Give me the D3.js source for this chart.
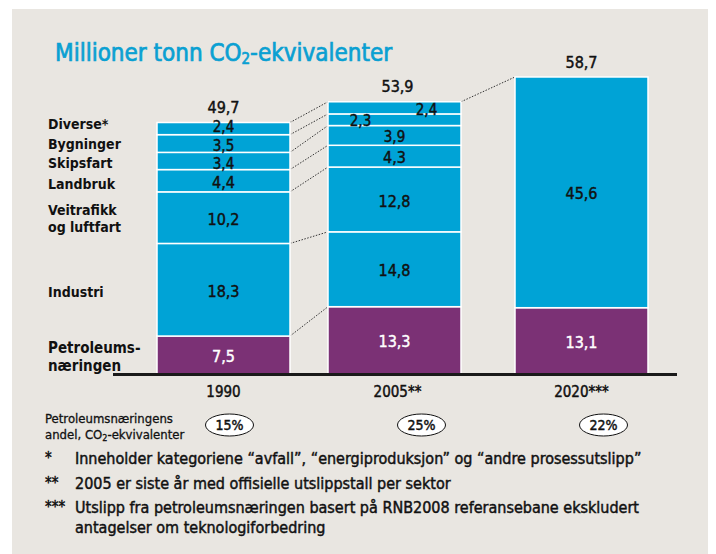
<!DOCTYPE html>
<html>
<head>
<meta charset="utf-8">
<script src="https://cdn.jsdelivr.net/npm/d3@7"></script>
<style>
  body { margin: 0; background: #fff; }
  svg text { font-family: 'Liberation Sans Narrow', 'DejaVu Sans Condensed', 'Open Sans', sans-serif; }
  /* the original face is a medium weight; thicken the regular one a little */
  svg text.med { stroke-width: 0.45px; }
</style>
</head>
<body>
<svg id="chart"></svg>
<script>
// data
const years = ["1990", "2005**", "2020***"];
const sectors = ["Petroleumsnæringen", "Industri", "Veitrafikk og luftfart", "Landbruk", "Skipsfart", "Bygninger", "Diverse*"];
const sectorLabels = [["Petroleums-", "næringen"], ["Industri"], ["Veitrafikk", "og luftfart"], ["Landbruk"], ["Skipsfart"], ["Bygninger"], ["Diverse*"]];
const values1990 = [7.5, 18.3, 10.2, 4.4, 3.4, 3.5, 2.4];
const values2005 = [13.3, 14.8, 12.8, 4.3, 3.9, 2.3, 2.4];
const values2020 = [13.1, 45.6];   // petroleum, all other sectors
const totals = [49.7, 53.9, 58.7];
const petroShare = ["15%", "25%", "22%"];
const footnotes = [
  ["*", "Inneholder kategoriene “avfall”, “energiproduksjon” og “andre prosessutslipp”"],
  ["**", "2005 er siste år med offisielle utslippstall per sektor"],
  ["***", "Utslipp fra petroleumsnæringen basert på RNB2008 referansebane ekskludert", "antagelser om teknologiforbedring"]
];

const W = 716, H = 554;
const blue = "#00a3d6", purple = "#7b3175", ink = "#111";

const svg = d3.select("#chart").attr("width", W).attr("height", H);

// background panel
svg.append("rect")
  .attr("x", 12).attr("y", 9)
  .attr("width", 696).attr("height", H - 9)
  .attr("fill", "#e9e6e1");

const y = d3.scaleLinear().domain([0, 60]).range([374, 70.4]);
const x = d3.scaleOrdinal().domain(years).range([157, 328, 515]);
const bw = 133;

// build stacked segments
function stackOf(vals, year, kinds) {
  const tops = d3.cumsum(vals);
  return vals.map((v, i) => ({ year, kind: kinds[i], value: v, y0: tops[i] - v, y1: tops[i], idx: i }));
}
const seg1990 = stackOf(values1990, years[0], sectors);
const seg2005 = stackOf(values2005, years[1], sectors);
const seg2020 = stackOf(values2020, years[2], ["Petroleumsnæringen", "Andre"]);
const allSegs = seg1990.concat(seg2005, seg2020);

const fmt = v => d3.format(".1f")(v).replace(".", ",");

// title
svg.append("text")
  .attr("class", "med")
  .attr("x", 55).attr("y", 61)
  .attr("fill", "#0aa0d2").attr("stroke", "#0aa0d2").style("stroke-width", "0.7px")
  .attr("font-size", 24)
  .html('Millioner tonn CO<tspan font-size="15" dy="3">2</tspan><tspan dy="-3">-ekvivalenter</tspan>');

// dotted connectors between bars
const conn = svg.append("g")
  .attr("stroke", "#333").attr("stroke-width", 1)
  .attr("stroke-dasharray", "1.5,1.5").attr("fill", "none");
seg1990.forEach((d, i) => {
  conn.append("line")
    .attr("x1", x(years[0]) + bw).attr("y1", y(d.y1))
    .attr("x2", x(years[1])).attr("y2", y(seg2005[i].y1));
});
conn.append("line")
  .attr("x1", x(years[1]) + bw).attr("y1", y(d3.sum(values2005)))
  .attr("x2", x(years[2])).attr("y2", y(d3.sum(values2020)));

// bars
svg.append("g").selectAll("rect")
  .data(allSegs)
  .join("rect")
  .attr("x", d => x(d.year))
  .attr("y", d => y(d.y1))
  .attr("width", bw)
  .attr("height", d => y(d.y0) - y(d.y1))
  .attr("fill", d => d.idx === 0 ? purple : blue)
  .attr("stroke", "#fff")
  .attr("stroke-width", 1.5);

// baseline
svg.append("line")
  .attr("x1", 113).attr("x2", 677)
  .attr("y1", y(0) + 0.5).attr("y2", y(0) + 0.5)
  .attr("stroke", "#1a1a1a").attr("stroke-width", 3);

// segment value labels (labels of the thin segments are pushed apart)
const nudge = {
  "2005**|Diverse*": [32, 1.5], "2005**|Bygninger": [-34, 1.5],
  "1990|Diverse*": [0, -2], "1990|Bygninger": [0, 2], "1990|Skipsfart": [0, 2.5]
};
const nd = d => nudge[d.year + "|" + d.kind] || [0, 1.5];
svg.append("g").selectAll("text")
  .data(allSegs)
  .join("text")
  .attr("class", "med")
  .attr("x", d => x(d.year) + bw / 2 + nd(d)[0])
  .attr("y", d => (y(d.y0) + y(d.y1)) / 2 + nd(d)[1])
  .attr("dy", "0.35em")
  .attr("text-anchor", "middle")
  .attr("font-size", d => d.value < 4 ? 15 : 16)
  .attr("fill", d => d.idx === 0 ? "#fff" : ink)
  .attr("stroke", d => d.idx === 0 ? "#fff" : ink)
  .text(d => fmt(d.value));

// totals above bars
svg.append("g").selectAll("text")
  .data(years)
  .join("text")
  .attr("class", "med")
  .attr("x", d => x(d) + bw / 2 + (d === years[1] ? 3 : 0))
  .attr("y", (d, i) => y(totals[i]) - 15)
  .attr("dy", "0.35em")
  .attr("text-anchor", "middle")
  .attr("font-size", 16)
  .attr("fill", ink).attr("stroke", ink)
  .text((d, i) => fmt(totals[i]));

// sector labels on the left, aligned to the 1990 segments
const labShift = [2, 2, 1, 3, 2, 1, -4];
const lab = svg.append("g");
seg1990.forEach((d, i) => {
  const lines = sectorLabels[i];
  const lh = i === 0 ? 18 : 17;
  const cy = (y(d.y0) + y(d.y1)) / 2 + labShift[i];
  const t = lab.append("text")
    .attr("y", cy - (lines.length - 1) * lh / 2)
    .attr("font-size", i === 0 ? 15 : 14)
    .attr("font-weight", "bold")
    .attr("fill", ink);
  lines.forEach((l, k) => {
    t.append("tspan").attr("x", 48).attr("dy", k === 0 ? "0.35em" : lh).text(l);
  });
});

// year labels
svg.append("g").selectAll("text")
  .data(years)
  .join("text")
  .attr("class", "med")
  .attr("x", d => x(d) + bw / 2 + (d === years[1] ? 3 : 0))
  .attr("y", 392)
  .attr("dy", "0.35em")
  .attr("text-anchor", "middle")
  .attr("font-size", 15)
  .attr("fill", ink).attr("stroke", ink)
  .text(d => d);

// petroleum share row
const share = svg.append("text")
  .attr("class", "med")
  .attr("x", 45).attr("y", 418)
  .attr("dy", "0.35em")
  .attr("font-size", 13)
  .attr("fill", ink).attr("stroke", ink).style("stroke-width", "0.3px");
share.append("tspan").attr("x", 45).text("Petroleumsnæringens");
share.append("tspan").attr("x", 45).attr("dy", 16)
  .html('andel, CO<tspan font-size="9" dy="2">2</tspan><tspan dy="-2">-ekvivalenter</tspan>');

const shareShift = [6, 27, 22];
const sg = svg.append("g").selectAll("g")
  .data(years)
  .join("g")
  .attr("transform", (d, i) => `translate(${x(d) + bw / 2 + shareShift[i]},425)`);
sg.append("ellipse")
  .attr("rx", 24).attr("ry", 11)
  .attr("fill", "#fff").attr("stroke", ink).attr("stroke-width", 1);
sg.append("text")
  .attr("class", "med")
  .attr("text-anchor", "middle").attr("dy", "0.35em")
  .attr("font-size", 14).attr("fill", ink).attr("stroke", ink)
  .text((d, i) => petroShare[i]);

// footnotes
const fy = [458, 483, 507];
footnotes.forEach((f, i) => {
  svg.append("text")
    .attr("class", "med")
    .attr("x", 45).attr("y", fy[i]).attr("dy", "0.35em")
    .attr("font-size", 15).attr("fill", ink).attr("stroke", ink)
    .text(f[0]);
  f.slice(1).forEach((line, k) => {
    svg.append("text")
      .attr("class", "med")
      .attr("x", 75).attr("y", fy[i] + k * 20).attr("dy", "0.35em")
      .attr("font-size", 16).attr("fill", ink).attr("stroke", ink)
      .text(line);
  });
});
</script>
</body>
</html>
